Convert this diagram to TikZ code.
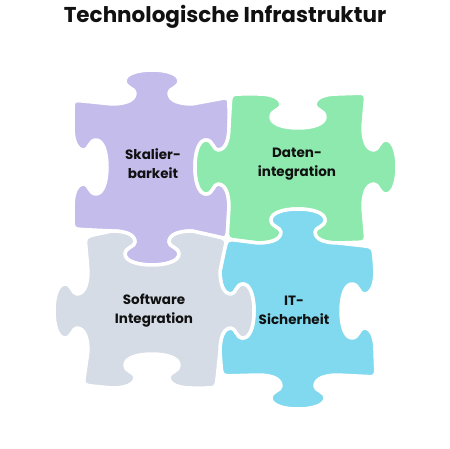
\documentclass[tikz,border=0pt]{standalone}
\usepackage{fontspec}
\setmainfont{Poppins}
\usetikzlibrary{calc}
\definecolor{cpurple}{HTML}{C4BDEC}
\definecolor{cgreen}{HTML}{8DE9AE}
\definecolor{cblue}{HTML}{80D9EE}
\definecolor{cgray}{HTML}{D5DCE6}
\definecolor{ctext}{HTML}{111111}
\newcommand\KnobShape{-- (-40,0) .. controls (-28,0) and (-17,-3) .. (-17,-11) .. controls (-17,-16) and (-27,-16) .. (-27,-23) .. controls (-27,-30) and (-15,-34) .. (0,-34) .. controls (15,-34) and (27,-30) .. (27,-23) .. controls (27,-16) and (17,-16) .. (17,-11) .. controls (17,-3) and (28,0) .. (40,0)}
\newcommand\KnobTab[2]{{[shift={(#1)},rotate=#2] \KnobShape}}
\newcommand\KnobBlank[2]{{[shift={(#1)},rotate=#2,yscale=-1] \KnobShape}}
\newcommand\StartCorner[3]{($(#1)!11pt!(#2)$) .. controls (#1) .. ($(#1)!11pt!(#3)$)}
\newcommand\Corner[3]{-- ($(#1)!11pt!(#2)$) .. controls (#1) .. ($(#1)!11pt!(#3)$)}
\begin{document}
\begin{tikzpicture}[x=1pt,y=-1pt,
  piece/.style={draw=white,line width=3.5pt,line join=round},
  lbl/.style={font=\fontsize{13.5}{19}\selectfont\bfseries,align=center,text=ctext}]
\fill[white] (0,0) rectangle (450,449);
\useasboundingbox (0,0) rectangle (450,449);
% purple
\path[piece,fill=cpurple] \StartCorner{73,100}{73,125}{110,104} \KnobTab{152,104}{0} \Corner{229,97}{194,104}{229,125} \KnobBlank{229,167}{-90} \Corner{227,239}{229,209}{194,231} \KnobTab{152,231}{180} \Corner{73,229}{110,231}{73,209} \KnobBlank{73,167}{90} -- cycle;
% green
\path[piece,fill=cgreen] \StartCorner{231,94}{229,125}{256,94} \KnobBlank{298,94}{0} \Corner{366,93}{340,94}{363,125} \KnobTab{363,167}{-90} \Corner{366,242}{363,209}{340,243} \KnobBlank{298,243}{180} \Corner{227,239}{256,243}{229,209} \KnobTab{229,167}{90} -- cycle;
% blue
\path[piece,fill=cblue] \StartCorner{227,239}{220,269}{256,243} \KnobTab{298,243}{0} \Corner{373,247}{340,243}{375,269} \KnobBlank{375,311}{-90} \Corner{376,377}{375,353}{340,375} \KnobTab{298,375}{180} \Corner{222,376}{256,375}{220,353} \KnobBlank{220,311}{90} -- cycle;
% gray
\path[piece,fill=cgray] \StartCorner{85,237}{88,269}{110,231} \KnobBlank{152,231}{0} \Corner{227,239}{194,231}{220,269} \KnobTab{220,311}{-90} \Corner{216,388}{220,353}{194,388} \KnobBlank{152,388}{180} \Corner{83,385}{110,388}{88,353} \KnobTab{88,311}{90} -- cycle;
% labels
\node[font=\fontsize{21.5}{26}\selectfont\bfseries,anchor=base,text=ctext] (title) at (225,23) {Technologische Infrastruktur};
\node[lbl] (t1) at (153,164) {Skalier-\\barkeit};
\node[lbl] (t2) at (297,164) {Daten-\\integration};
\node[lbl] (t3) at (154,311) {Software\\Integration};
\node[lbl] (t4) at (294,310) {IT-\\Sicherheit};
\end{tikzpicture}
\end{document}
